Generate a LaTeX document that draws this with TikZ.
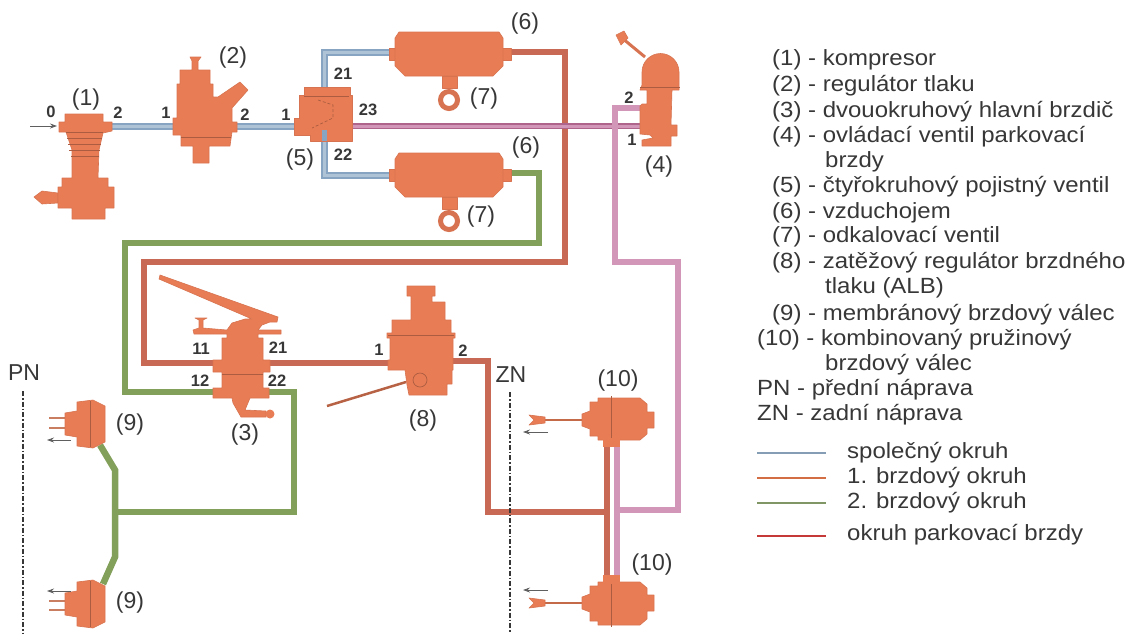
\documentclass[tikz,border=0pt]{standalone}
\usepackage{fontspec}
\setmainfont{Liberation Sans}
\newfontfamily\legendfont[FakeStretch=1.09]{Liberation Sans}
\usetikzlibrary{arrows.meta}
\definecolor{partorange}{RGB}{232, 125, 85}
\definecolor{partedge}{RGB}{215, 115, 80}
\definecolor{commonblue}{RGB}{135, 165, 195}
\definecolor{commonlight}{RGB}{175, 195, 215}
\definecolor{firstred}{RGB}{200, 105, 85}
\definecolor{secondgreen}{RGB}{130, 160, 90}
\definecolor{parkpink}{RGB}{210, 150, 185}
\definecolor{parkdark}{RGB}{175, 100, 140}
\definecolor{labelgray}{RGB}{55, 55, 55}
\tikzset{
  part/.style={fill=partorange, draw=partedge, line width=0.6pt, line join=round},
  seam/.style={draw=partedge!80!black, line width=0.7pt},
  pipecommon/.style={draw=commonblue, line width=7pt, line join=miter, postaction={draw=commonlight, line width=3pt}},
  pipefirst/.style={draw=firstred, line width=6.5pt, line join=miter},
  pipesecond/.style={draw=secondgreen, line width=6.5pt, line join=miter},
  pipepark/.style={draw=parkdark, line width=6.5pt, line join=miter, postaction={draw=parkpink, line width=3pt}},
  pipeparkthin/.style={draw=parkpink, line width=6.5pt, line join=miter},
  numlabel/.style={text=labelgray, font=\fontsize{23}{23}\selectfont, inner sep=0pt},
  portlabel/.style={text=labelgray, font=\bfseries\fontsize{16.5}{16.5}\selectfont, inner sep=0pt},
  legendtext/.style={text=labelgray, anchor=west, inner sep=0pt, font=\legendfont\fontsize{22}{22}\selectfont},
  axle/.style={draw=labelgray, line width=1.5pt, dash pattern=on 5pt off 2pt on 1.5pt off 2pt},
  moveflow/.style={draw=labelgray!80, line width=0.8pt, -{Stealth[length=7pt,width=5pt]}},
  legendline/.style={line width=2.5pt}
}
% air tank with drain valve, origin on the tank centre
\newcommand{\airtank}[1]{
  \begin{scope}[shift={#1}]
    \draw[draw=partedge, line width=5pt] (0,46) circle (8.5);
    \draw[part] (-7,22) rectangle (8,34);
    \draw[part] (-60,-6) rectangle (62,6);
    \draw[part] (-50,-22) -- (50,-22) -- (54,-16) -- (54,12) -- (44,22) -- (-44,22) -- (-54,12) -- (-54,-16) -- cycle;
  \end{scope}
}
\begin{document}
\begin{tikzpicture}[x=1pt, y=-1pt, >=Stealth]
  \useasboundingbox (0,0) rectangle (1131,633);

  % ---------- ports the pipes run between ----------
  \coordinate (compOut) at (110,126);
  \coordinate (regIn) at (176,126);
  \coordinate (regOut) at (235,126);
  \coordinate (fourIn) at (296,126);
  \coordinate (fourUp) at (324,88);
  \coordinate (fourDown) at (324,135);
  \coordinate (fourPark) at (350,126);
  \coordinate (tankUpIn) at (390,52);
  \coordinate (tankUpOut) at (510,52);
  \coordinate (tankLowIn) at (390,175);
  \coordinate (tankLowOut) at (510,173);
  \coordinate (parkIn) at (642,126);
  \coordinate (parkOut) at (642,108);
  \coordinate (brakeLeftUp) at (216,363);
  \coordinate (brakeRightUp) at (268,363);
  \coordinate (brakeLeftLow) at (216,392);
  \coordinate (brakeRightLow) at (268,392);
  \coordinate (albIn) at (390,363);
  \coordinate (albOut) at (452,361);
  \coordinate (frontUp) at (100,445);
  \coordinate (frontLow) at (103,584);
  \coordinate (frontTee) at (115,512);
  \coordinate (springUpFirst) at (607,445);
  \coordinate (springLowFirst) at (607,580);
  \coordinate (springUpPark) at (617,445);
  \coordinate (springLowPark) at (617,580);

  % ---------- pipes ----------
  \draw[pipecommon] (compOut) -- (regIn);
  \draw[pipecommon] (regOut) -- (fourIn);
  \draw[pipecommon] (tankUpIn) -| (fourUp);
  \draw[pipecommon] (tankLowIn) -| (fourDown);
  \draw[pipefirst] (tankUpOut) -- (565,52) -- (565,262) -- (144,262) -- (144,363) -- (brakeLeftUp);
  \draw[pipefirst] (brakeRightUp) -- (albIn);
  \draw[pipefirst] (albOut) -- (488,361) -- (488,512) -- (607,512);
  \draw[pipefirst] (springUpFirst) -- (springLowFirst);
  \draw[pipesecond] (tankLowOut) -- (539,173) -- (539,243) -- (125,243) -- (125,392) -- (brakeLeftLow);
  \draw[pipesecond] (brakeRightLow) -- (294,392) -- (294,512) -- (frontTee);
  \draw[pipesecond] (frontUp) -- (115,470) -- (115,557) -- (frontLow);
  \draw[pipepark] (fourPark) -- (parkIn);
  \draw[pipeparkthin] (parkOut) -- (615,108) -- (615,262) -- (678,262) -- (678,510) -- (617,510);
  \draw[pipeparkthin] (springUpPark) -- (springLowPark);

  % ---------- compressor (1) ----------
  \draw[part] (34,197) -- (42,191) -- (58,193) -- (58,203) -- (42,204) -- cycle;
  \draw[part] (72,178) -- (72,150) -- (66,132) -- (59,132) -- (59,122) -- (65,122) -- (65,114) -- (103,114) -- (103,122) -- (112,122) -- (112,131) -- (103,133) -- (99,150) -- (98,178) -- (108,178) -- (108,187) -- (114,187) -- (114,208) -- (105,208) -- (105,219) -- (72,219) -- (72,208) -- (58,208) -- (58,187) -- (62,187) -- (62,178) -- cycle;
  \foreach \finy/\finl/\finr in {132/66/103, 138/67/102, 144/68/101, 150/69/100, 156/71/99}
    \draw[seam] (\finl,\finy) -- (\finr,\finy);

  % ---------- pressure regulator (2) ----------
  \draw[part] (190,57) -- (201,57) -- (198,61) -- (198,70) -- (210,70) -- (210,84) -- (213,84) -- (213,97) -- (218,97) -- (240,82) -- (248,90) -- (232,108) -- (232,122) -- (237,122) -- (237,132) -- (232,132) -- (230,146) -- (209,146) -- (209,163) -- (193,163) -- (193,146) -- (181,146) -- (181,135) -- (173,135) -- (173,118) -- (177,118) -- (177,84) -- (180,84) -- (180,70) -- (192,70) -- (192,61) -- cycle;
  \draw[seam] (181,137) -- (231,137);

  % ---------- four-circuit valve (5) ----------
  \draw[part] (304,87) -- (350,87) -- (350,95) -- (352,95) -- (352,141) -- (310,141) -- (310,135) -- (294,135) -- (294,118) -- (299,118) -- (299,95) -- (304,95) -- cycle;
  \draw[seam] (304,96) -- (349,96);
  \draw[seam, densely dashed] (318,100) -- (333,105) -- (333,118) -- (312,128);
  \fill[commonblue] (322,130) rectangle (327,141);

  % ---------- tanks (6) and drain valves (7) ----------
  \airtank{(449,54)}
  \airtank{(449,175)}

  % ---------- parking brake valve (4) ----------
  \draw[part, line width=3pt] (622,38) -- (645,57);
  \draw[part] (616,35) -- (624,31) -- (628,38) -- (621,45) -- cycle;
  \draw[part] (642,85) -- (642,72) arc[start angle=180, end angle=360, radius=18.5] -- (679,85) -- (679,90) -- (672,90) -- (671,125) -- (677,125) -- (677,136) -- (671,136) -- (671,146) -- (642,146) -- (642,140) -- (653,138) -- (650,135) -- (640,134) -- (640,106) -- (642,104) -- (647,104) -- (647,90) -- (640,90) -- cycle;
  \draw[seam] (640,87) -- (680,87);

  % ---------- master brake valve (3) ----------
  \draw[part] (160,275) -- (278,317) -- (277,322) -- (270,322) -- (262,325) -- (258,330) -- (281,330) -- (281,334) -- (258,334) -- (258,338) -- (263,338) -- (263,360) -- (270,360) -- (270,372) -- (263,372) -- (263,388) -- (269,388) -- (269,398) -- (250,398) -- (245,410) -- (266,411) -- (266,417) -- (241,417) -- (233,403) -- (232,398) -- (213,398) -- (213,388) -- (222,388) -- (222,372) -- (213,372) -- (213,360) -- (222,360) -- (222,338) -- (227,338) -- (227,334) -- (194,334) -- (193,330) -- (199,328) -- (199,320) -- (195,318) -- (207,318) -- (203,320) -- (203,328) -- (227,330) -- (232,323) -- (245,319) -- (252,319) -- (159,279) -- cycle;
  \fill[partorange] (270,414) circle (4.5);
  \draw[seam] (222,374) -- (263,374);

  % ---------- load sensing valve (8) ----------
  \draw[part] (407,286) -- (435,286) -- (435,296) -- (432,296) -- (432,302) -- (445,302) -- (445,320) -- (451,320) -- (451,333) -- (455,333) -- (455,338) -- (453,338) -- (453,370) -- (452,370) -- (452,384) -- (447,384) -- (447,395) -- (409,395) -- (407,385) -- (405,370) -- (388,370) -- (388,360) -- (390,360) -- (390,338) -- (387,338) -- (387,333) -- (392,333) -- (392,320) -- (411,320) -- (411,296) -- (407,296) -- cycle;
  \draw[seam] (388,335) -- (454,335);
  \draw[seam] (420,380) circle (7);
  \draw[draw=partedge!85!black, line width=2.5pt] (327,406) -- (406,382);

  % ---------- diaphragm cylinders (9) ----------
  \foreach \cyly/\prongup/\prongdown in {424/418/428, 604/601/610} {
    \draw[draw=partorange!70!gray, line width=2pt] (49,\prongup) -- (66,\prongup);
    \draw[draw=partorange!70!gray, line width=2pt] (49,\prongdown) -- (66,\prongdown);
    \draw[part] (65,\cyly-11) -- (77,\cyly-13) -- (77,\cyly-22) -- (93,\cyly-24) -- (105,\cyly-18) -- (105,\cyly+18) -- (93,\cyly+24) -- (77,\cyly+22) -- (77,\cyly+13) -- (65,\cyly+11) -- cycle;
    \draw[seam] (90,\cyly-23) -- (90,\cyly+23);
  }

  % ---------- spring cylinders (10) ----------
  \foreach \cyly/\bodytop/\bodylow in {420/398/440, 603/582/625} {
    \draw[draw=partorange!85!black, line width=2pt] (545,\cyly) -- (583,\cyly);
    \draw[part] (529,\cyly-5) -- (545,\cyly-3) -- (545,\cyly+3) -- (529,\cyly+5) -- (534,\cyly) -- cycle;
    \draw[part] (582,\cyly-6) -- (590,\cyly-9) -- (590,\bodytop+4) -- (598,\bodytop+4) -- (598,\bodytop) -- (640,\bodytop) -- (647,\bodytop+6) -- (647,\cyly-8) -- (654,\cyly-8) -- (654,\cyly+8) -- (647,\cyly+8) -- (647,\bodylow-6) -- (640,\bodylow) -- (598,\bodylow) -- (598,\bodylow-4) -- (590,\bodylow-4) -- (590,\cyly+9) -- (582,\cyly+6) -- cycle;
    \draw[seam] (611,\bodytop-2) -- (611,\bodylow+2);
  }
  \fill[partorange] (603,438) rectangle (620,447);
  \fill[partorange] (603,575) rectangle (620,584);

  % ---------- axles ----------
  \draw[axle] (23,391) -- (23,633);
  \draw[axle] (510,392) -- (510,633);
  \node[numlabel] (axleFront) at (24,373) {PN};
  \node[numlabel] (axleRear) at (511,375) {ZN};

  % ---------- flow arrows ----------
  \coordinate (airFrom) at (30,126);
  \coordinate (airTo) at (57,126);
  \draw[moveflow] (airFrom) -- (airTo);
  \draw[moveflow] (71,440) -- (47,440);
  \draw[moveflow] (71,591) -- (47,591);
  \draw[moveflow] (548,432) -- (523,432);
  \draw[moveflow] (548,590) -- (523,590);

  % ---------- part numbers ----------
  \node[numlabel] (numComp) at (86,100) {(1)};
  \node[numlabel] (numReg) at (233,58) {(2)};
  \node[numlabel] (numBrake) at (245,435) {(3)};
  \node[numlabel] (numPark) at (659,167) {(4)};
  \node[numlabel] (numFour) at (300,160) {(5)};
  \node[numlabel] (numTankUp) at (525,24) {(6)};
  \node[numlabel] (numTankLow) at (526,148) {(6)};
  \node[numlabel] (numDrainUp) at (484,99) {(7)};
  \node[numlabel] (numDrainLow) at (481,217) {(7)};
  \node[numlabel] (numAlb) at (423,421) {(8)};
  \node[numlabel] (numFrontUp) at (130,425) {(9)};
  \node[numlabel] (numFrontLow) at (130,603) {(9)};
  \node[numlabel] (numRearUp) at (618,381) {(10)};
  \node[numlabel] (numRearLow) at (652,565) {(10)};

  % ---------- port numbers ----------
  \node[portlabel] (portAir) at (51,112) {0};
  \node[portlabel] (portCompOut) at (118,113) {2};
  \node[portlabel] (portRegIn) at (166,113) {1};
  \node[portlabel] (portRegOut) at (245,115) {2};
  \node[portlabel] (portFourIn) at (286,115) {1};
  \node[portlabel] (portFourUp) at (343,74) {21};
  \node[portlabel] (portFourPark) at (368,110) {23};
  \node[portlabel] (portFourDown) at (343,155) {22};
  \node[portlabel] (portParkOut) at (629,98) {2};
  \node[portlabel] (portParkIn) at (632,140) {1};
  \node[portlabel] (portBrakeA) at (201,349) {11};
  \node[portlabel] (portBrakeB) at (278,348) {21};
  \node[portlabel] (portBrakeC) at (200,381) {12};
  \node[portlabel] (portBrakeD) at (277,381) {22};
  \node[portlabel] (portAlbIn) at (379,350) {1};
  \node[portlabel] (portAlbOut) at (463,351) {2};

  % ---------- list of parts ----------
  \node[legendtext] (itemOne) at (772,60) {(1) - kompresor};
  \node[legendtext] (itemTwo) at (772,86) {(2) - regulátor tlaku};
  \node[legendtext] (itemThree) at (772,112) {(3) - dvouokruhový hlavní brzdič};
  \node[legendtext] (itemFour) at (772,137) {(4) - ovládací ventil parkovací};
  \node[legendtext] (itemFourB) at (825,162) {brzdy};
  \node[legendtext] (itemFive) at (772,187) {(5) - čtyřokruhový pojistný ventil};
  \node[legendtext] (itemSix) at (772,213) {(6) - vzduchojem};
  \node[legendtext] (itemSeven) at (772,237) {(7) - odkalovací ventil};
  \node[legendtext] (itemEight) at (772,263) {(8) - zatěžový regulátor brzdného};
  \node[legendtext] (itemEightB) at (825,288) {tlaku (ALB)};
  \node[legendtext] (itemNine) at (772,315) {(9) - membránový brzdový válec};
  \node[legendtext] (itemTen) at (757,340) {(10) - kombinovaný pružinový};
  \node[legendtext] (itemTenB) at (825,365) {brzdový válec};
  \node[legendtext] (itemFront) at (757,390) {PN - přední náprava};
  \node[legendtext] (itemRear) at (757,415) {ZN - zadní náprava};

  % ---------- line key ----------
  \node[legendtext] (keyCommon) at (847,453) {společný okruh};
  \node[legendtext] (keyFirst) at (847,478) {1. brzdový okruh};
  \node[legendtext] (keySecond) at (847,503) {2. brzdový okruh};
  \node[legendtext] (keyPark) at (847,535) {okruh parkovací brzdy};
  \coordinate (keyCommonEnd) at (757,453);
  \coordinate (keyFirstEnd) at (757,478);
  \coordinate (keySecondEnd) at (757,503);
  \coordinate (keyParkEnd) at (757,536);
  \draw[legendline, draw=commonblue!80!gray] (keyCommonEnd) -- ++(69,0);
  \draw[legendline, draw=firstred!80!orange] (keyFirstEnd) -- ++(69,0);
  \draw[legendline, draw=secondgreen!70!gray] (keySecondEnd) -- ++(69,0);
  \draw[legendline, draw=red!55!gray] (keyParkEnd) -- ++(69,0);
\end{tikzpicture}
\end{document}
